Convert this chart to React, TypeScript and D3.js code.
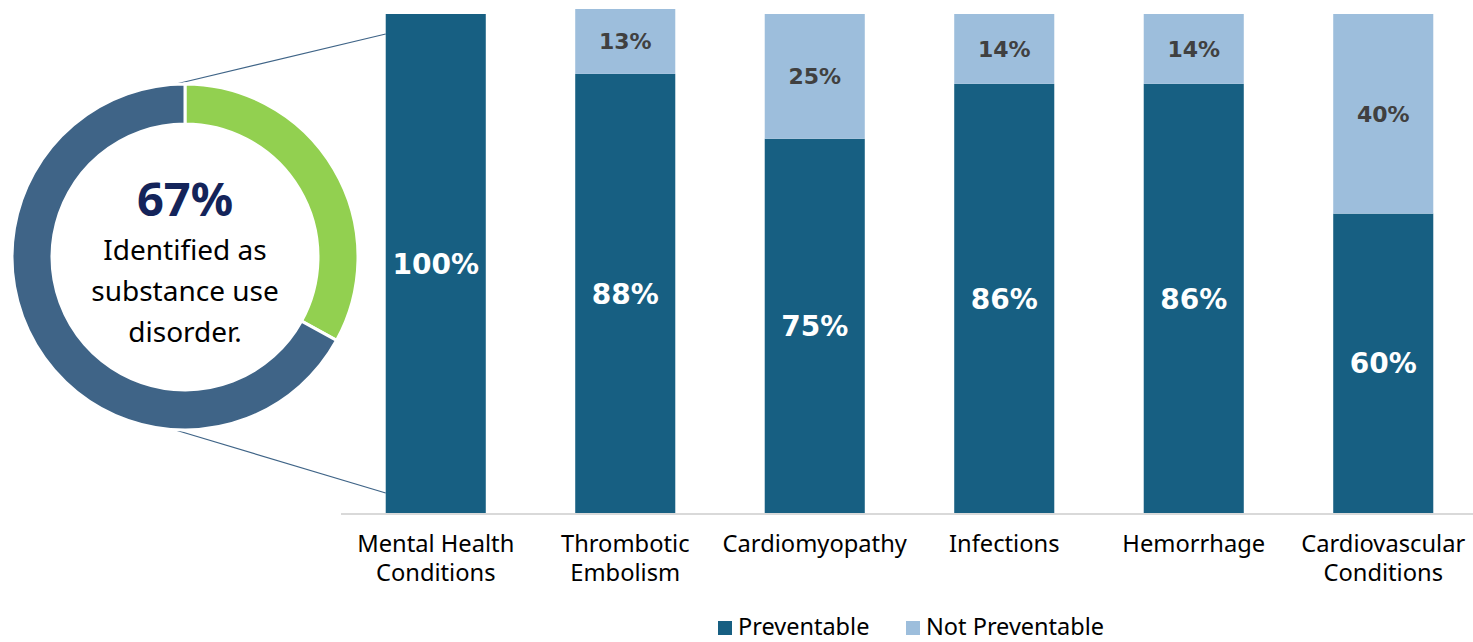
import React from "react";
import * as d3 from "d3";

const categories: string[][] = [
  ["Mental Health", "Conditions"],
  ["Thrombotic", "Embolism"],
  ["Cardiomyopathy"],
  ["Infections"],
  ["Hemorrhage"],
  ["Cardiovascular", "Conditions"],
];
const preventable = [100, 88, 75, 86, 86, 60];
const notPreventable = [0, 13, 25, 14, 14, 40];
const donutValues = [33, 67];
const donutColors = ["#92d050", "#3f6487"];
const centerTitle = "67%";
const centerLines = ["Identified as", "substance use", "disorder."];
const legendItems = ["Preventable", "Not Preventable"];

const W = 1473;
const H = 642;
const DARK = "#175f82";
const LIGHT = "#9dbedc";
const LABEL_FONT = "'DejaVu Sans', Verdana, sans-serif";
const TEXT_FONT = "'Noto Sans', sans-serif";

export default function App() {
  const x = d3
    .scaleBand<number>()
    .domain(categories.map((_, i) => i))
    .range([341, 1478])
    .paddingInner(0.472)
    .paddingOuter(0.236);
  const y = d3.scaleLinear().domain([0, 100]).range([513, 14]);

  const cx = 185;
  const cy = 257;
  const pie = d3.pie<number>().sort(null).value((d) => d);
  const arcs = pie(donutValues);
  const arc = d3.arc<d3.PieArcDatum<number>>().innerRadius(133).outerRadius(173);

  const bx0 = x(0)!;
  const bw = x.bandwidth();

  return (
    <svg width={W} height={H} style={{ position: "absolute", left: 0, top: 0 }}>
      {/* connector lines */}
      <line x1={176} y1={84} x2={bx0} y2={y(96)} stroke="#3f6487" strokeWidth={1.2} />
      <line x1={172} y1={429} x2={bx0} y2={y(4)} stroke="#3f6487" strokeWidth={1.2} />
      {/* donut */}
      <g transform={`translate(${cx},${cy})`}>
        {arcs.map((a, i) => (
          <path key={i} d={arc(a)!} fill={donutColors[i]} stroke="#fff" strokeWidth={3} />
        ))}
        <text y={-41} textAnchor="middle" fontFamily={TEXT_FONT} fontWeight={700} fontSize={47} fill="#14245a">
          {centerTitle}
        </text>
        {centerLines.map((l, i) => (
          <text key={i} y={3 + i * 41} textAnchor="middle" fontFamily={TEXT_FONT} fontSize={28} fill="#000">
            {l}
          </text>
        ))}
      </g>
      {/* axis line */}
      <line x1={341} x2={W} y1={y(0) + 1} y2={y(0) + 1} stroke="#d9d9d9" strokeWidth={2} />
      {/* bars */}
      {categories.map((c, i) => {
        const xi = x(i)!;
        const p = preventable[i];
        const n = notPreventable[i];
        return (
          <g key={i}>
            <rect x={xi} width={bw} y={y(p)} height={y(0) - y(p)} fill={DARK} />
            {n > 0 && <rect x={xi} width={bw} y={y(p + n)} height={y(p) - y(p + n)} fill={LIGHT} />}
            <text
              x={xi + bw / 2}
              y={(y(0) + y(p)) / 2}
              dy="0.36em"
              textAnchor="middle"
              fontFamily={LABEL_FONT}
              fontWeight={700}
              fontSize={28}
              fill="#fff"
            >
              {p}%
            </text>
            {n > 0 && (
              <text
                x={xi + bw / 2}
                y={(y(p) + y(p + n)) / 2}
                dy="0.36em"
                textAnchor="middle"
                fontFamily={LABEL_FONT}
                fontWeight={700}
                fontSize={22}
                fill="#404040"
              >
                {n}%
              </text>
            )}
            {c.map((line, j) => (
              <text
                key={j}
                x={xi + bw / 2}
                y={552 + j * 29}
                textAnchor="middle"
                fontFamily={TEXT_FONT}
                fontSize={23.7}
                fill="#000"
              >
                {line}
              </text>
            ))}
          </g>
        );
      })}
      {/* legend */}
      {legendItems.map((l, i) => {
        const lx = i === 0 ? 718 : 906;
        return (
          <g key={i}>
            <rect x={lx} y={621} width={14} height={14} fill={i === 0 ? DARK : LIGHT} />
            <text x={lx + 20} y={635} fontFamily={TEXT_FONT} fontSize={23.5} fill="#000">
              {l}
            </text>
          </g>
        );
      })}
    </svg>
  );
}
